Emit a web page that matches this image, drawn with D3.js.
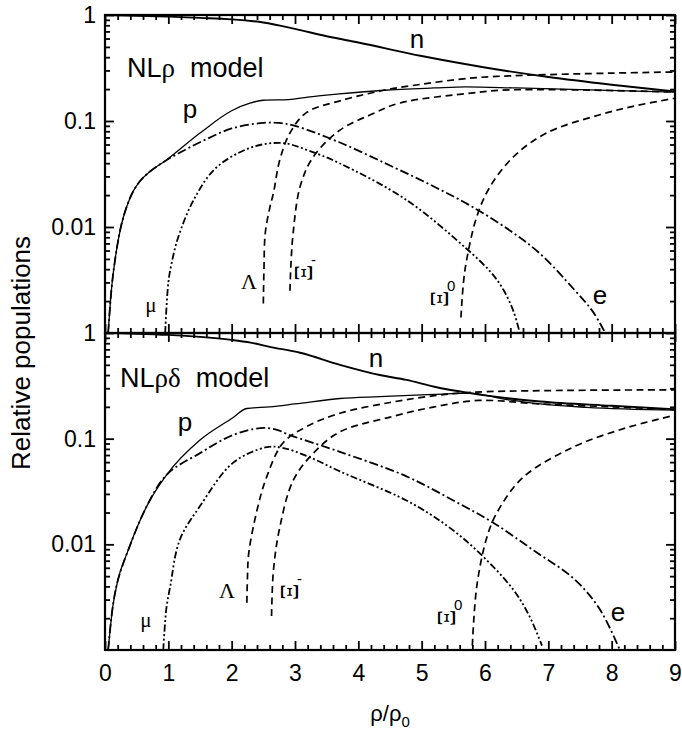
<!DOCTYPE html>
<html><head><meta charset="utf-8">
<script src="https://cdn.jsdelivr.net/npm/d3@7/dist/d3.min.js"></script>
<style>
body{margin:0;background:#fff;}
svg{display:block;font-family:"Liberation Sans",Arial,sans-serif;}
</style></head>
<body><svg id="c" width="682" height="734"></svg>
<script>
// ---------- data ----------
const xTicks = [0,1,2,3,4,5,6,7,8,9];
const yTickLabels = ["1","0.1","0.01"];
const yTickValues = [1,0.1,0.01];

// NLρ model (top)
const rho_n = [[0,1],[0.5,0.985],[1,0.965],[1.5,0.94],[2,0.91],[2.5,0.85],[3,0.74],[3.5,0.63],[4,0.55],[5,0.41],[6,0.32],[7,0.26],[8,0.22],[9,0.19]];
const rho_p = [[0.05,0.001],[0.1,0.0025],[0.15,0.0045],[0.25,0.01],[0.35,0.016],[0.45,0.022],[0.55,0.027],[0.7,0.033],[0.95,0.042],[1.5,0.077],[2,0.125],[2.3,0.148],[2.5,0.157],[2.9,0.159],[3.2,0.168],[3.7,0.18],[4.4,0.195],[5.2,0.205],[5.7,0.21],[6.5,0.205],[7.5,0.198],[9,0.187]];
const rho_e = [[0.05,0.001],[0.1,0.0025],[0.15,0.0045],[0.25,0.01],[0.35,0.016],[0.45,0.022],[0.55,0.027],[0.7,0.033],[0.95,0.042],[1.2,0.051],[1.5,0.063],[2,0.085],[2.5,0.096],[2.75,0.096],[3,0.09],[3.7,0.063],[4.5,0.038],[5.2,0.024],[5.8,0.0155],[6.4,0.0092],[6.87,0.0056],[7.4,0.0026],[7.7,0.0016],[7.9,0.001]];
const rho_mu = [[0.95,0.001],[1.0,0.003],[1.05,0.0045],[1.15,0.0078],[1.4,0.018],[1.75,0.036],[2.3,0.056],[2.8,0.062],[3.2,0.053],[3.7,0.04],[4.76,0.018],[5.7,0.0063],[6.1,0.0037],[6.3,0.0025],[6.45,0.0016],[6.55,0.001]];
const rho_lambda = [[2.5,0.0019],[2.51,0.004],[2.53,0.0087],[2.6,0.015],[2.66,0.021],[2.76,0.043],[2.92,0.077],[3.18,0.12],[3.71,0.155],[4.4,0.195],[4.76,0.212],[5.81,0.255],[6.66,0.27],[8,0.283],[9,0.29]];
const rho_xim = [[2.92,0.0025],[2.94,0.005],[2.97,0.0087],[3.08,0.024],[3.29,0.046],[3.71,0.082],[4.2,0.115],[4.66,0.148],[5.81,0.184],[6.24,0.195],[7,0.198],[9,0.188]];
const rho_xi0 = [[5.62,0.0014],[5.66,0.003],[5.71,0.0049],[5.87,0.0125],[6.08,0.024],[6.45,0.046],[6.97,0.077],[7.8,0.114],[8.4,0.14],[9,0.164]];

// NLρδ model (bottom)
const rd_n = [[0,1],[0.5,0.985],[1,0.96],[1.5,0.92],[2,0.86],[2.3,0.81],[2.6,0.74],[3.08,0.65],[3.71,0.5],[4.34,0.4],[4.76,0.36],[5.2,0.31],[5.76,0.27],[6.87,0.225],[8,0.205],[9,0.19]];
const rd_p = [[0.05,0.001],[0.12,0.0025],[0.2,0.0045],[0.35,0.0083],[0.66,0.023],[0.98,0.046],[1.5,0.097],[2,0.155],[2.24,0.193],[2.6,0.2],[3.0,0.213],[3.71,0.24],[4.34,0.25],[5.2,0.262],[5.76,0.27],[6.3,0.237],[6.87,0.213],[7.6,0.198],[9,0.186]];
const rd_e = [[0.05,0.001],[0.12,0.0025],[0.2,0.0045],[0.35,0.0083],[0.66,0.023],[0.98,0.046],[1.5,0.073],[2,0.107],[2.45,0.126],[2.7,0.122],[2.92,0.108],[3.71,0.075],[4.76,0.044],[5.5,0.026],[6.13,0.016],[6.8,0.0085],[7.39,0.0048],[7.8,0.0025],[8.13,0.001]];
const rd_mu = [[0.92,0.001],[0.97,0.0025],[1.03,0.004],[1.18,0.011],[1.5,0.023],[2.02,0.059],[2.55,0.083],[2.8,0.082],[3.2,0.068],[3.71,0.049],[4.76,0.026],[5.4,0.015],[5.92,0.0082],[6.45,0.0037],[6.7,0.0021],[6.9,0.0011]];
const rd_lambda = [[2.24,0.0028],[2.25,0.005],[2.27,0.0083],[2.4,0.021],[2.55,0.043],[2.81,0.091],[3.18,0.13],[3.71,0.174],[4.5,0.22],[5.2,0.255],[5.8,0.275],[7,0.285],[9,0.29]];
const rd_xim = [[2.63,0.0021],[2.66,0.0057],[2.76,0.0145],[2.97,0.04],[3.29,0.073],[3.71,0.116],[4.5,0.16],[5.2,0.2],[5.9,0.23],[6.87,0.213],[8,0.2],[9,0.188]];
const rd_xi0 = [[5.8,0.0011],[5.87,0.004],[6.03,0.0117],[6.19,0.02],[6.6,0.043],[7.39,0.083],[8.2,0.125],[9,0.167]];

// ---------- drawing ----------
const svg = d3.select("#c");
const L = 105, R = 675;
const x = d3.scaleLinear().domain([0,9]).range([L,R]);
const panels = [
  {top:15, bot:333, series:{n:rho_n,p:rho_p,e:rho_e,mu:rho_mu,lambda:rho_lambda,xim:rho_xim,xi0:rho_xi0}},
  {top:333, bot:650, series:{n:rd_n,p:rd_p,e:rd_e,mu:rd_mu,lambda:rd_lambda,xim:rd_xim,xi0:rd_xi0}}
];
const styles = {
  n:{w:1.9,dash:null,mono:true},
  p:{w:1.3,dash:null,mono:true},
  e:{w:1.8,dash:"9,3,2,3"},
  mu:{w:1.8,dash:"7,2.5,2,2.5,2,2.5"},
  lambda:{w:1.7,dash:"7,4.5"},
  xim:{w:1.7,dash:"7,4.5"},
  xi0:{w:1.7,dash:"7,4.5"}
};
const minorX = d3.range(0,9.001,0.2).filter(v=>Math.abs(v-Math.round(v))>1e-6);
const minorY = [];
[0.001,0.01,0.1].forEach(d=>{for(let k=2;k<=9;k++) minorY.push(d*k);});

panels.forEach((P,i)=>{
  const y = d3.scaleLog().domain([0.001,1]).range([P.bot,P.top]);
  P.y = y;
  const clipId = "clip"+i;
  svg.append("clipPath").attr("id",clipId).append("rect")
    .attr("x",L).attr("y",P.top).attr("width",R-L).attr("height",P.bot-P.top);
  const g = svg.append("g").attr("clip-path",`url(#${clipId})`);
  Object.entries(P.series).forEach(([k,data])=>{
    const s = styles[k];
    const line = d3.line().x(d=>x(d[0])).y(d=>y(d[1]))
      .curve(s.mono ? d3.curveMonotoneX : d3.curveCatmullRom.alpha(0.5));
    g.append("path").attr("d",line(data)).attr("fill","none")
      .attr("stroke","#000").attr("stroke-width",s.w)
      .attr("stroke-dasharray",s.dash);
  });
  const mk = (axis,vals,size,labels)=>{
    const a = axis.tickValues(vals).tickSizeInner(-size).tickSizeOuter(0);
    if(!labels) a.tickFormat("");
    return a;
  };
  svg.append("g").attr("transform",`translate(0,${P.bot})`)
    .call(mk(d3.axisBottom(x),xTicks,9,i===1).tickPadding(15));
  svg.append("g").attr("transform",`translate(0,${P.bot})`).call(mk(d3.axisBottom(x),minorX,5,false));
  svg.append("g").attr("transform",`translate(0,${P.top})`).call(mk(d3.axisTop(x),xTicks,9,false));
  svg.append("g").attr("transform",`translate(0,${P.top})`).call(mk(d3.axisTop(x),minorX,5,false));
  const ya = d3.axisLeft(y).tickValues(yTickValues).tickSizeInner(-9).tickSizeOuter(0)
     .tickFormat((d,j)=>yTickLabels[j]).tickPadding(9);
  svg.append("g").attr("transform",`translate(${L},0)`).call(ya);
  svg.append("g").attr("transform",`translate(${L},0)`).call(mk(d3.axisLeft(y),minorY,5,false));
  svg.append("g").attr("transform",`translate(${R},0)`).call(mk(d3.axisRight(y),yTickValues,9,false));
  svg.append("g").attr("transform",`translate(${R},0)`).call(mk(d3.axisRight(y),minorY,5,false));
  svg.append("rect").attr("x",L).attr("y",P.top).attr("width",R-L).attr("height",P.bot-P.top)
    .attr("fill","none").attr("stroke","#000").attr("stroke-width",2.2);
});
svg.selectAll(".domain").remove();
svg.selectAll(".tick line").attr("stroke","#000").attr("stroke-width",1.8);
svg.selectAll(".tick text").attr("font-size",23).attr("font-family","Liberation Sans, Arial, sans-serif").attr("fill","#000");

// ---------- labels ----------
const sans = "Liberation Sans, Arial, sans-serif", serif = "Liberation Serif, Times New Roman, serif";
function txt(px,py,str,size,fam,anchor){
  return svg.append("text").attr("x",px).attr("y",py).attr("font-size",size)
    .attr("font-family",fam).attr("text-anchor",anchor||"start").text(str);
}
function modelLabel(px,py,greek){
  const t = svg.append("text").attr("x",px).attr("y",py).attr("font-size",27).attr("font-family",sans);
  t.append("tspan").text("NL");
  t.append("tspan").attr("font-family",serif).text(greek);
  t.append("tspan").attr("xml:space","preserve").text("  model");
}
function xiLabel(cx,cy,sup){
  svg.append("text").attr("transform",`translate(${cx},${cy}) rotate(-90)`)
    .attr("font-size",26).attr("font-family",serif).attr("text-anchor","middle")
    .attr("dominant-baseline","central").text("Ξ");
  txt(cx+8,cy-8,sup,15,sans);
}
modelLabel(127,77,"ρ");
txt(417,48,"n",26,sans,"middle");
txt(190,118,"p",26,sans,"middle");
txt(249,289,"Λ",22,serif,"middle");
xiLabel(303,273,"-");
txt(151,312,"μ",21,serif,"middle");
xiLabel(439,299,"0");
txt(600,304,"e",26,sans,"middle");

modelLabel(120,387,"ρδ");
txt(376,367,"n",26,sans,"middle");
txt(185,431,"p",26,sans,"middle");
txt(227,598,"Λ",22,serif,"middle");
xiLabel(289,592,"-");
txt(146,627,"μ",21,serif,"middle");
xiLabel(446,618,"0");
txt(618,621,"e",26,sans,"middle");

// axis titles
svg.append("text").attr("transform","translate(30,353) rotate(-90)")
  .attr("text-anchor","middle").attr("font-size",26).attr("font-family",sans).text("Relative populations");
const xt = svg.append("text").attr("x",390).attr("y",721).attr("text-anchor","middle")
  .attr("font-size",22).attr("font-family",sans);
xt.append("tspan").text("ρ/ρ");
xt.append("tspan").attr("font-size",15).attr("dy",6).text("0");
</script></body></html>
